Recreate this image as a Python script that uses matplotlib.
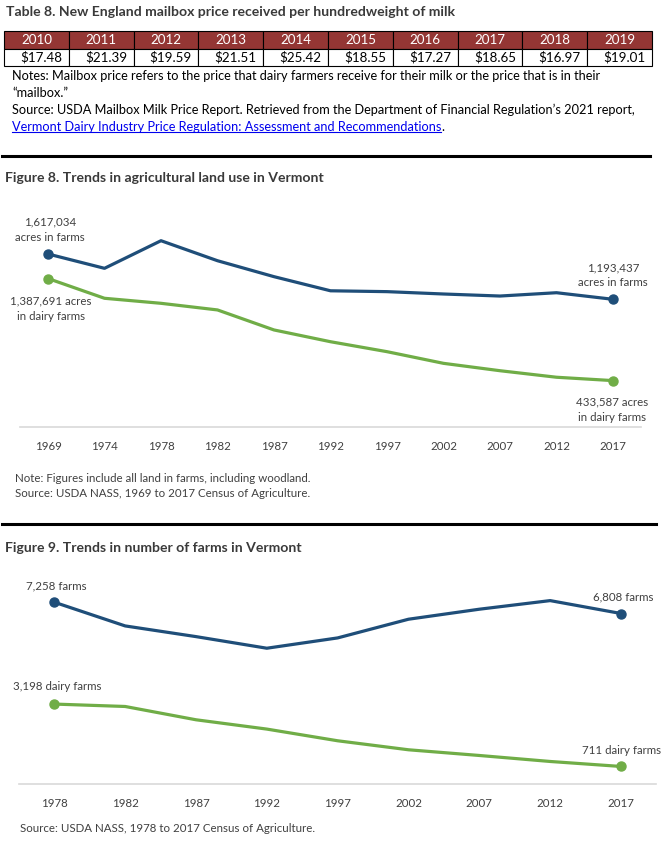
import numpy as np
import matplotlib
matplotlib.use("Agg")
import matplotlib.pyplot as plt
from matplotlib.lines import Line2D

plt.rcParams['font.family'] = ['Lato', 'DejaVu Sans']

# Table 8 data
price_years = ["2010", "2011", "2012", "2013", "2014", "2015", "2016", "2017", "2018", "2019"]
mailbox_prices = ["$17.48", "$21.39", "$19.59", "$21.51", "$25.42", "$18.55", "$17.27", "$18.65", "$16.97", "$19.01"]

# Figure 8 data (acres)
land_years = ["1969", "1974", "1978", "1982", "1987", "1992", "1997", "2002", "2007", "2012", "2017"]
acres_in_farms = [1617034, 1483000, 1741000, 1554000, 1405000, 1273000, 1265000, 1243000, 1224000, 1255000, 1193437]
acres_dairy = [1387691, 1203000, 1156000, 1094000, 907000, 797000, 704000, 595000, 526000, 465000, 433587]

# Figure 9 data (number of farms)
farm_years = ["1978", "1982", "1987", "1992", "1997", "2002", "2007", "2012", "2017"]
n_farms = [7258, 6313, 5887, 5424, 5835, 6580, 6979, 7322, 6808]
n_dairy_farms = [3198, 3102, 2572, 2201, 1735, 1376, 1149, 910, 711]

BLUE = "#1f4e79"
GREEN = "#70ad47"
DARK = "#404040"
TITLE = "#3a3a3a"

W, H = 666, 842
fig = plt.figure(figsize=(W / 100, H / 100), dpi=100)


def fx(x):
    return x / W


def fy(y):
    return 1 - y / H


def axes_px(left, top, right, bottom):
    return fig.add_axes([fx(left), fy(bottom), (right - left) / W, (bottom - top) / H])


# ---- Table 8 ----
fig.text(fx(6), fy(12), "Table 8. New England mailbox price received per hundredweight of milk",
         fontsize=10.1, fontweight="bold", color=TITLE, va="center")

tax = axes_px(4, 31, 652, 66)
tax.axis("off")
tbl = tax.table(cellText=[mailbox_prices], colLabels=price_years, cellLoc="right",
                colLoc="center", bbox=[0, 0, 1, 1])
tbl.auto_set_font_size(False)
for (r, c), cell in tbl.get_celld().items():
    cell.set_edgecolor("black")
    cell.set_linewidth(0.8)
    cell.get_text().set_fontsize(9.6)
    if r == 0:
        cell.set_facecolor("#943634")
        cell.get_text().set_color("white")
    else:
        cell.get_text().set_color("black")

note_kw = dict(fontsize=9.2, color="black", va="center")
fig.text(fx(12), fy(76), "Notes: Mailbox price refers to the price that dairy farmers receive for their milk or the price that is in their", **note_kw)
fig.text(fx(12), fy(93), "\u201cmailbox.\u201d", **note_kw)
fig.text(fx(12), fy(110), "Source: USDA Mailbox Milk Price Report. Retrieved from the Department of Financial Regulation\u2019s 2021 report,", **note_kw)
link = fig.text(fx(12), fy(127), "Vermont Dairy Industry Price Regulation: Assessment and Recommendations",
                fontsize=9.2, color="#0000ee", va="center")

# section dividers
fig.add_artist(Line2D([fx(2), fx(650)], [fy(156), fy(156)], color="black", lw=2.2))
fig.add_artist(Line2D([fx(2), fx(656)], [fy(524), fy(524)], color="black", lw=2.2))


def style_axes(ax, labels):
    ax.set_xticks(range(len(labels)))
    ax.set_xticklabels(labels, fontsize=8.3, color=DARK)
    ax.set_xlim(-0.5, len(labels) - 0.5)
    ax.set_yticks([])
    for s in ["top", "right", "left"]:
        ax.spines[s].set_visible(False)
    ax.spines["bottom"].set_color("#d9d9d9")
    ax.spines["bottom"].set_linewidth(1.2)
    ax.tick_params(axis="x", length=0, pad=10)
    ax.patch.set_alpha(0)


ann_kw = dict(fontsize=8.3, color=DARK, ha="center", va="center", linespacing=1.45)

# ---- Figure 8 ----
fig.text(fx(5), fy(178), "Figure 8. Trends in agricultural land use in Vermont",
         fontsize=10.1, fontweight="bold", color=TITLE, va="center")
ax1 = axes_px(19.75, 213, 641.25, 427)
x1 = np.arange(len(land_years))
ax1.plot(x1, acres_in_farms, color=BLUE, lw=2.3, solid_capstyle="round", solid_joinstyle="round")
ax1.plot(x1, acres_dairy, color=GREEN, lw=2.3, solid_capstyle="round", solid_joinstyle="round")
ax1.plot(x1[[0, -1]], [acres_in_farms[0], acres_in_farms[-1]], "o", color=BLUE, ms=6.5)
ax1.plot(x1[[0, -1]], [acres_dairy[0], acres_dairy[-1]], "o", color=GREEN, ms=6.5)
ax1.set_ylim(0, 2000000)
style_axes(ax1, land_years)
fig.text(fx(50), fy(229.5), "1,617,034\nacres in farms", **ann_kw)
fig.text(fx(51), fy(308.5), "1,387,691 acres\nin dairy farms", **ann_kw)
fig.text(fx(613), fy(275), "1,193,437\nacres in farms", **ann_kw)
fig.text(fx(612), fy(409.5), "433,587 acres\nin dairy farms", **ann_kw)

fig.text(fx(15), fy(478), "Note: Figures include all land in farms, including woodland.", fontsize=8.3, color=DARK, va="center")
fig.text(fx(15), fy(494), "Source: USDA NASS, 1969 to 2017 Census of Agriculture.", fontsize=8.3, color=DARK, va="center")

# ---- Figure 9 ----
fig.text(fx(5), fy(548), "Figure 9. Trends in number of farms in Vermont",
         fontsize=10.1, fontweight="bold", color=TITLE, va="center")
ax2 = axes_px(18.9, 583.6, 656.4, 784.3)
x2 = np.arange(len(farm_years))
ax2.plot(x2, n_farms, color=BLUE, lw=2.3, solid_capstyle="round", solid_joinstyle="round")
ax2.plot(x2, n_dairy_farms, color=GREEN, lw=2.3, solid_capstyle="round", solid_joinstyle="round")
ax2.plot(x2[[0, -1]], [n_farms[0], n_farms[-1]], "o", color=BLUE, ms=6.5)
ax2.plot(x2[[0, -1]], [n_dairy_farms[0], n_dairy_farms[-1]], "o", color=GREEN, ms=6.5)
ax2.set_ylim(0, 8000)
style_axes(ax2, farm_years)
fig.text(fx(56), fy(586), "7,258 farms", **ann_kw)
fig.text(fx(57), fy(686), "3,198 dairy farms", **ann_kw)
fig.text(fx(623), fy(597), "6,808 farms", **ann_kw)
fig.text(fx(621.5), fy(750), "711 dairy farms", **ann_kw)

fig.text(fx(20), fy(829), "Source: USDA NASS, 1978 to 2017 Census of Agriculture.", fontsize=8.3, color=DARK, va="center")

# underline the report link and add the closing period
fig.canvas.draw()
bb = link.get_window_extent(fig.canvas.get_renderer())
uy = bb.y0 + 1
fig.add_artist(Line2D([bb.x0 / W, bb.x1 / W], [uy / H, uy / H], color="#0000ee", lw=0.8))
fig.text(bb.x1 / W, fy(127), ".", **note_kw)

fig.savefig("out.png", dpi=100)
